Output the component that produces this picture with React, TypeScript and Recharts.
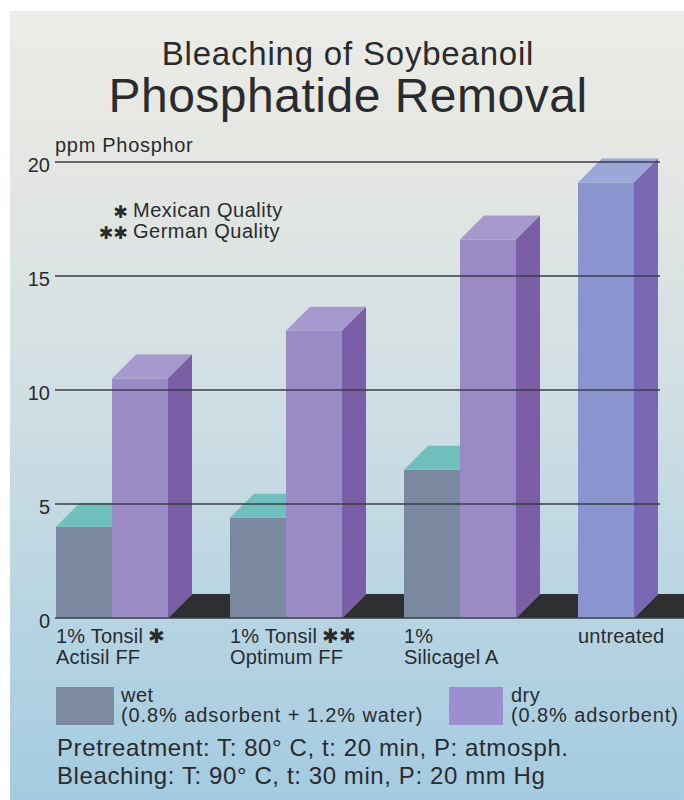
import React from 'react';
import { BarChart, Bar, XAxis, YAxis } from 'recharts';

// ---------- data ----------
const categories = ['Tonsil Actisil FF', 'Tonsil Optimum FF', 'Silicagel A', 'untreated'];
const categoryLines: string[][] = [
  ['1% Tonsil', 'Actisil FF'],
  ['1% Tonsil', 'Optimum FF'],
  ['1%', 'Silicagel A'],
  ['untreated', ''],
];
const categoryMarks = ['✱', '✱✱', '', ''];
const wetValues: (number | null)[] = [4.0, 4.4, 6.5, null];
const untreatedValues: (number | null)[] = [null, null, null, 19.1];
const dryValues: (number | null)[] = [10.5, 12.6, 16.6, null];
const yTicks = [0, 5, 10, 15, 20];

const legendItems = [
  { name: 'wet', detail: '(0.8% adsorbent + 1.2% water)', color: '#7d8ba1' },
  { name: 'dry', detail: '(0.8% adsorbent)', color: '#9c8fcf' },
];
const notes = [
  { mark: '✱', text: 'Mexican Quality' },
  { mark: '✱✱', text: 'German Quality' },
];
const footerLines = [
  'Pretreatment: T: 80° C, t: 20 min, P: atmosph.',
  'Bleaching: T: 90° C, t: 30 min, P: 20 mm Hg',
];

const data = categories.map((c, i) => ({
  category: c,
  wet: wetValues[i],
  untreated: untreatedValues[i],
  dry: dryValues[i],
}));

// ---------- styles ----------
const FONT = "'Liberation Sans', Arial, Helvetica, sans-serif";
const STAR_FONT = "'DejaVu Sans', sans-serif";
const INK = '#2b2b2d';
const BAR = 56;
const DEPTH = 24;
const FLOOR = 62;
const GRID_RIGHT = 660;
const PAGE_RIGHT = 684;

type Colors = { front: string; top: string; side: string; shadow?: string };
const wetColors: Colors = { front: '#7b89a0', top: '#6fbfbc', side: '#66768e' };
const dryColors: Colors = { front: '#9a8bc7', top: '#a699ce', side: '#7a5ea6', shadow: '#2e2f31' };
const untreatedColors: Colors = { front: '#8a94cf', top: '#9aa7d8', side: '#7968b3', shadow: '#2e2f31' };

const makeShape = (key: string, c: Colors) => (p: any) => {
  const v = p?.payload?.[key];
  if (v == null || !p.height) return <g />;
  const x = p.x;
  const y = p.y;
  const w = p.width;
  const base = y + p.height;
  const D = DEPTH;
  return (
    <g>
      {c.shadow && (
        <polygon
          points={`${x + w},${base} ${x + w + D},${base - D} ${x + w + FLOOR},${base - D} ${x + w + FLOOR},${base}`}
          fill={c.shadow}
        />
      )}
      <rect x={x} y={y} width={w} height={p.height} fill={c.front} />
      <polygon points={`${x},${y} ${x + D},${y - D} ${x + w + D},${y - D} ${x + w},${y}`} fill={c.top} />
      <polygon
        points={`${x + w},${y} ${x + w + D},${y - D} ${x + w + D},${base - D} ${x + w},${base}`}
        fill={c.side}
      />
    </g>
  );
};

const YTick = (props: any) => {
  const { x, y, payload } = props;
  return (
    <g>
      <line
        x1={x + 5}
        x2={payload.value === 0 ? PAGE_RIGHT : GRID_RIGHT}
        y1={y}
        y2={y}
        stroke="#3a3e44"
        strokeWidth={1.7}
      />
      <text x={x} y={y + 9.5} textAnchor="end" fontFamily={FONT} fontSize={20} fill={INK}>
        {payload.value}
      </text>
    </g>
  );
};

const XTick = (props: any) => {
  const { x, y, index } = props;
  const lines = categoryLines[index] || [];
  const left = x - BAR;
  return (
    <g>
      <text x={left} y={y + 25} fontFamily={FONT} fontSize={20} fill={INK} letterSpacing={0.2}>
        {lines[0]}
        {categoryMarks[index] ? (
          <tspan fontFamily={STAR_FONT} fontSize={20} fontWeight="bold" dx={5}>
            {categoryMarks[index]}
          </tspan>
        ) : null}
      </text>
      <text x={left} y={y + 46} fontFamily={FONT} fontSize={20} fill={INK} letterSpacing={0.2}>
        {lines[1]}
      </text>
    </g>
  );
};

export default function App() {
  return (
    <div
      style={{
        position: 'absolute',
        left: 0,
        top: 0,
        width: 684,
        height: 800,
        overflow: 'hidden',
        background: '#ffffff',
      }}
    >
      <svg width={684} height={800} style={{ position: 'absolute', left: 0, top: 0 }}>
        <defs>
          <linearGradient id="bg" x1="0" y1="0" x2="0" y2="1">
            <stop offset="0%" stopColor="#ecece8" />
            <stop offset="22%" stopColor="#e3e6e2" />
            <stop offset="50%" stopColor="#cfdee3" />
            <stop offset="78%" stopColor="#b6d4e2" />
            <stop offset="100%" stopColor="#a4cbe1" />
          </linearGradient>
        </defs>
        <rect x={10} y={11} width={674} height={789} fill="url(#bg)" />
        <text x={348} y={65} textAnchor="middle" fontFamily={FONT} fontSize={33} fill={INK} letterSpacing={0.8}>
          Bleaching of Soybeanoil
        </text>
        <text x={348} y={112} textAnchor="middle" fontFamily={FONT} fontSize={48} fill={INK} letterSpacing={0.5}>
          Phosphatide Removal
        </text>
        <text x={55} y={152} fontFamily={FONT} fontSize={20} fill={INK} letterSpacing={0.7}>
          ppm Phosphor
        </text>
        {notes.map((n, i) => (
          <g key={n.text}>
            <text
              x={128}
              y={218 + i * 21}
              textAnchor="end"
              fontFamily={STAR_FONT}
              fontSize={17.5}
              fontWeight="bold"
              fill={INK}
            >
              {n.mark}
            </text>
            <text x={133} y={217 + i * 21} fontFamily={FONT} fontSize={20} fill={INK} letterSpacing={0.5}>
              {n.text}
            </text>
          </g>
        ))}
        {legendItems.map((it, i) => {
          const lx = i === 0 ? 56 : 449;
          const tx = i === 0 ? 121 : 511;
          return (
            <g key={it.name}>
              <rect x={lx} y={687} width={i === 0 ? 58 : 54} height={38} fill={it.color} />
              <text x={tx} y={702} fontFamily={FONT} fontSize={20} fill={INK} letterSpacing={0.5}>
                {it.name}
              </text>
              <text x={tx} y={722} fontFamily={FONT} fontSize={20} fill={INK} letterSpacing={0.9}>
                {it.detail}
              </text>
            </g>
          );
        })}
        {footerLines.map((l, i) => (
          <text key={l} x={57} y={756 + i * 28} fontFamily={FONT} fontSize={24} fill={INK} letterSpacing={0.6}>
            {l}
          </text>
        ))}
      </svg>
      <div style={{ position: 'absolute', left: 0, top: 0 }}>
        <BarChart
          width={684}
          height={800}
          data={data}
          margin={{ top: 162, right: 24, bottom: 122, left: 0 }}
          barGap={0}
          barSize={BAR}
        >
          <Bar dataKey="wet" stackId="slot" isAnimationActive={false} shape={makeShape('wet', wetColors)} />
          <Bar
            dataKey="untreated"
            stackId="slot"
            isAnimationActive={false}
            shape={makeShape('untreated', untreatedColors)}
          />
          <Bar dataKey="dry" isAnimationActive={false} shape={makeShape('dry', dryColors)} />
          <XAxis
            dataKey="category"
            height={60}
            axisLine={false}
            tickLine={false}
            tickSize={0}
            tickMargin={0}
            interval={0}
            padding={{ left: -30, right: -61 }}
            tick={<XTick />}
          />
          <YAxis
            width={55}
            domain={[0, 20]}
            ticks={yTicks}
            interval={0}
            axisLine={false}
            tickLine={false}
            tickSize={0}
            tickMargin={5}
            tick={<YTick />}
          />
        </BarChart>
      </div>
    </div>
  );
}
